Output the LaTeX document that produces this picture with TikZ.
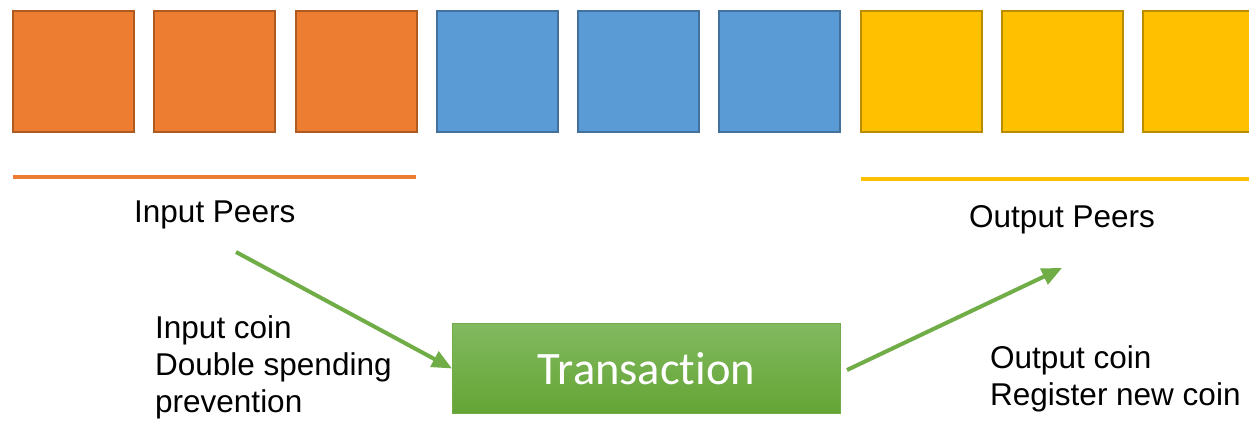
\documentclass[tikz,border=0pt]{standalone}
\usepackage{fontspec}
\setmainfont{Liberation Sans}
\newfontfamily\calibrifont[Ligatures=NoCommon]{Carlito}
\usetikzlibrary{arrows.meta,calc}

\definecolor{peerorange}{HTML}{ED7D31}
\definecolor{peerorangeline}{HTML}{AE5A21}
\definecolor{peerblue}{HTML}{5B9BD5}
\definecolor{peerblueline}{HTML}{41719C}
\definecolor{peeryellow}{HTML}{FFC000}
\definecolor{peeryellowline}{HTML}{BC8C00}
\definecolor{txgreen}{HTML}{70AD47}
\definecolor{txtop}{RGB}{130,186,96}
\definecolor{txbottom}{RGB}{100,164,52}

\tikzset{
  x=1pt, y=-1pt,
  peerbox/.style={rectangle, minimum size=121pt, inner sep=0pt, line width=2pt},
  orangebox/.style={peerbox, fill=peerorange, draw=peerorangeline},
  bluebox/.style={peerbox, fill=peerblue, draw=peerblueline},
  yellowbox/.style={peerbox, fill=peeryellow, draw=peeryellowline},
  label/.style={anchor=base west, inner sep=0pt, align=left,
    font=\fontsize{31.5}{37}\selectfont},
  flow/.style={draw=txgreen, line width=4pt,
    -{Triangle[length=20pt,width=17pt]}},
}

\begin{document}
\begin{tikzpicture}
  \useasboundingbox (0,0) rectangle (1249,421);
  \clip (0,0) rectangle (1249,421);

  % row of peers
  \foreach \i in {0,1,2} {
    \node[orangebox] (o\i) at ({73.5+\i*141.25},71) {};
  }
  \foreach \i in {3,4,5} {
    \node[bluebox] (b\i) at ({73.5+\i*141.25},71) {};
  }
  \foreach \i in {6,7,8} {
    \node[yellowbox] (y\i) at ({73.5+\i*141.25},71) {};
  }

  % group underlines
  \draw[peerorange, line width=4pt] (13,177) -- (416,177);
  \draw[peeryellow, line width=4pt] (861,178.5) -- (1249,178.5);

  % labels (base anchor sits on the last line)
  \node[label] (inpeers) at (134,222) {Input Peers};
  \node[label] (outpeers) at (969,227) {Output Peers};
  \node[label] (incoin) at (155,412) {Input coin\\Double spending\\prevention};
  \node[label] (outcoin) at (990,405) {Output coin\\Register new coin};

  % transaction
  \node[rectangle, minimum width=388pt, minimum height=90pt, inner sep=0pt,
        top color=txtop, bottom color=txbottom, draw=txgreen, line width=1pt,
        text=white, font=\calibrifont\fontsize{46.5}{50}\selectfont]
        (tx) at (646.5,368.5) {Transaction};

  \coordinate (instart) at (236,252);
  \coordinate (outend) at (1062,268);
  \coordinate (outstart) at ($(tx.east)+(6,1.5)$);

  \draw[flow] (instart) -- (tx.west);
  \draw[flow] (outstart) -- (outend);
\end{tikzpicture}
\end{document}
